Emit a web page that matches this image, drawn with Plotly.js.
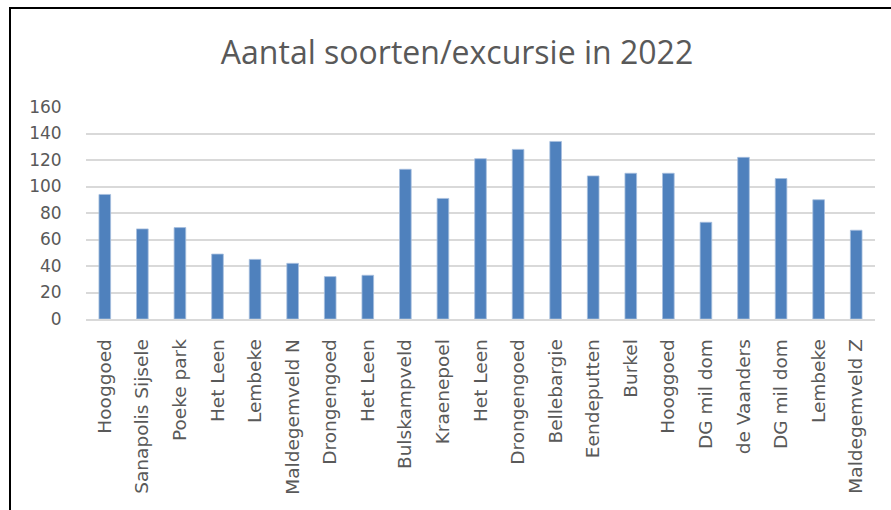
<!DOCTYPE html>
<html>
<head>
<meta charset="utf-8">
<script src="https://cdn.plot.ly/plotly-3.0.1.min.js"></script>
<style>html,body{margin:0;padding:0;background:#fff;}#chart{width:891px;height:510px;}</style>
</head>
<body>
<div id="chart"></div>
<script>
const categories = ["Hooggoed","Sanapolis Sijsele","Poeke park","Het Leen","Lembeke","Maldegemveld N","Drongengoed","Het Leen","Bulskampveld","Kraenepoel","Het Leen","Drongengoed","Bellebargie","Eendeputten","Burkel","Hooggoed","DG mil dom","de Vaanders","DG mil dom","Lembeke","Maldegemveld Z"];
const values = [94,68,69,49,45,42,32,33,113,91,121,128,134,108,110,110,73,122,106,90,67];
const yTicks = [0,20,40,60,80,100,120,140,160];

const positions = categories.map((c,i)=>i);

const L = 86, R = 16, T = 107, B = 191, W = 891, H = 510;
const pw = W - L - R, ph = H - T - B;
const px = x => (x - L) / pw;
const py = y => (H - B - y) / ph;

const trace = {
  type: 'bar',
  x: positions,
  y: values,
  marker: {color: '#4F81BD', line: {color: '#A7BFDE', width: 0.8}},
  hoverinfo: 'x+y'
};

const layout = {
  width: W, height: H,
  margin: {l: L, r: R, t: T, b: B, pad: 0},
  paper_bgcolor: '#ffffff',
  plot_bgcolor: '#ffffff',
  showlegend: false,
  bargap: 0.69,
  title: {
    text: 'Aantal soorten/excursie in 2022',
    font: {family: 'Open Sans, Liberation Sans, sans-serif', size: 32, color: '#595959'},
    xref: 'container', x: 457/891, xanchor: 'center',
    yref: 'container', y: 1 - 53/510, yanchor: 'middle'
  },
  xaxis: {
    tickmode: 'array',
    tickvals: positions,
    ticktext: categories,
    tickangle: -90,
    range: [-0.5, categories.length - 0.5],
    tickfont: {family: 'DejaVu Sans, sans-serif', size: 18.5, color: '#595959'},
    showline: true, linecolor: '#d9d9d9', linewidth: 1.5,
    showgrid: false, zeroline: false,
    ticks: 'outside', ticklen: 11, tickcolor: 'rgba(0,0,0,0)'
  },
  yaxis: {
    range: [0, 160],
    tickmode: 'array',
    tickvals: yTicks,
    ticktext: yTicks.map(String),
    tickfont: {family: 'DejaVu Sans, sans-serif', size: 17, color: '#595959'},
    showgrid: true, gridcolor: '#d9d9d9', gridwidth: 1.5,
    zeroline: false, showline: false,
    ticks: 'outside', ticklen: 20, tickcolor: 'rgba(0,0,0,0)'
  },
  shapes: [
    {type: 'line', xref: 'paper', yref: 'paper', x0: px(10), x1: px(10), y0: py(8), y1: py(520), line: {color: '#000', width: 2}},
    {type: 'line', xref: 'paper', yref: 'paper', x0: px(9), x1: px(895), y0: py(8), y1: py(8), line: {color: '#000', width: 2}}
  ]
};

Plotly.newPlot('chart', [trace], layout, {displayModeBar: false, responsive: false});
</script>
</body>
</html>
